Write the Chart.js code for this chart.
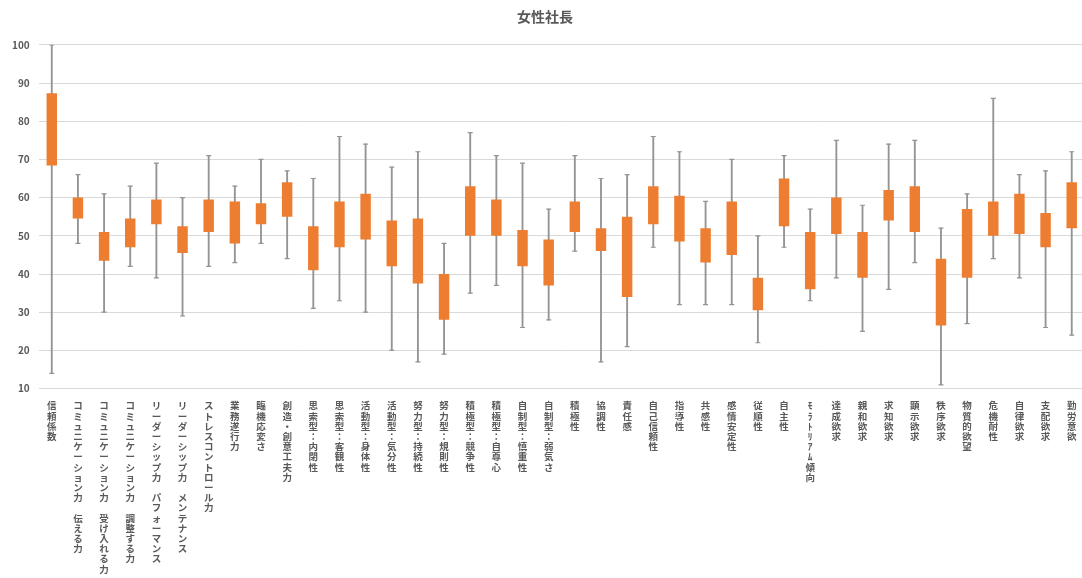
<!DOCTYPE html>
<html>
<head>
<meta charset="utf-8">
<script src="https://cdn.jsdelivr.net/npm/chart.js@4"></script>
<style>
  html, body { margin: 0; padding: 0; background: #fff; overflow: hidden; }
  #wrap { width: 1090px; height: 578px; }
</style>
</head>
<body>
<div id="wrap"><canvas id="chart"></canvas></div>
<script>
const categories = [
  "信頼係数", "コミュニケーション力 伝える力", "コミュニケーション力 受け入れる力", "コミュニケーション力 調整する力",
  "リーダーシップ力 パフォーマンス", "リーダーシップ力 メンテナンス", "ストレスコントロール力", "業務遂行力",
  "臨機応変さ", "創造・創意工夫力", "思索型：内閉性", "思索型：客観性", "活動型：身体性", "活動型：気分性",
  "努力型：持続性", "努力型：規則性", "積極型：競争性", "積極型：自尊心", "自制型：慎重性", "自制型：弱気さ",
  "積極性", "協調性", "責任感", "自己信頼性", "指導性", "共感性", "感情安定性", "従順性", "自主性",
  "ﾓﾗﾄﾘｱﾑ傾向", "達成欲求", "親和欲求", "求知欲求", "顕示欲求", "秩序欲求", "物質的欲望", "危機耐性",
  "自律欲求", "支配欲求", "勤労意欲"
];
const whiskerMax = [100, 66, 61, 63, 69, 60, 71, 63, 70, 67, 65, 76, 74, 68, 72, 48, 77, 71, 69, 57,
  71, 65, 66, 76, 72, 59, 70, 50, 71, 57, 75, 58, 74, 75, 52, 61, 86, 66, 67, 72];
const boxHigh = [87.3, 60, 51, 54.5, 59.5, 52.5, 59.5, 59, 58.5, 64, 52.5, 59, 61, 54, 54.5, 40, 63, 59.5, 51.5, 49,
  59, 52, 55, 63, 60.5, 52, 59, 39, 65, 51, 60, 51, 62, 63, 44, 57, 59, 61, 56, 64];
const boxLow = [68.4, 54.5, 43.5, 47, 53, 45.5, 51, 48, 53, 55, 41, 47, 49, 42, 37.5, 28, 50, 50, 42, 37,
  51, 46, 34, 53, 48.5, 43, 45, 30.5, 52.5, 36, 50.5, 39, 54, 51, 26.5, 39, 50, 50.5, 47, 52];
const whiskerMin = [14, 48, 30, 42, 39, 29, 42, 43, 48, 44, 31, 33, 30, 20, 17, 19, 35, 37, 26, 28,
  46, 17, 21, 47, 32, 32, 32, 22, 47, 33, 39, 25, 36, 43, 11, 27, 44, 39, 26, 24];
const yMin = 10, yMax = 100, yStep = 10;

const orange = "#ED7D31";
const gray = "#949494";
const textGray = "#595959";
const fontFamily = "'Noto Sans CJK JP', 'Noto Sans', sans-serif";

const ctx = document.getElementById("chart").getContext("2d");
new Chart(ctx, {
  type: "bar",
  data: {
    labels: categories,
    datasets: [
      {
        label: "box",
        data: categories.map((c, i) => [boxLow[i], boxHigh[i]]),
        backgroundColor: orange,
        barPercentage: 0.4,
        categoryPercentage: 1,
        grouped: false,
        order: 0
      },
      {
        label: "whisker",
        data: categories.map((c, i) => [whiskerMin[i], whiskerMax[i]]),
        backgroundColor: gray,
        barThickness: 1.2,
        grouped: false,
        order: 3
      },
      {
        type: "line",
        label: "max",
        data: whiskerMax,
        showLine: false,
        pointStyle: "line",
        pointRadius: 2.5,
        borderColor: gray,
        borderWidth: 1.2,
        order: 2
      },
      {
        type: "line",
        label: "min",
        data: whiskerMin,
        showLine: false,
        pointStyle: "line",
        pointRadius: 2.5,
        borderColor: gray,
        borderWidth: 1.2,
        order: 2
      }
    ]
  },
  options: {
    responsive: true,
    maintainAspectRatio: false,
    animation: false,
    layout: { padding: { left: 3, right: 3, top: 0, bottom: 0 } },
    plugins: {
      legend: { display: false },
      tooltip: { enabled: false },
      title: {
        display: true,
        text: "女性社長",
        color: textGray,
        font: { family: fontFamily, size: 14, weight: "bold" },
        padding: { top: 8, bottom: 20 }
      }
    },
    scales: {
      x: {
        grid: { display: false },
        border: { display: false },
        ticks: {
          autoSkip: false,
          maxRotation: 0,
          minRotation: 0,
          padding: 4,
          color: textGray,
          font: { family: fontFamily, size: 9.5, weight: "bold", lineHeight: "10.2px" },
          callback: (v, i) => Array.from(categories[i])
        }
      },
      y: {
        min: yMin,
        max: yMax,
        grid: { color: "#d9d9d9", drawTicks: false },
        border: { display: false },
        ticks: {
          stepSize: yStep,
          padding: 9,
          color: textGray,
          font: { family: fontFamily, size: 10, weight: "bold" }
        }
      }
    }
  }
});
</script>
</body>
</html>
